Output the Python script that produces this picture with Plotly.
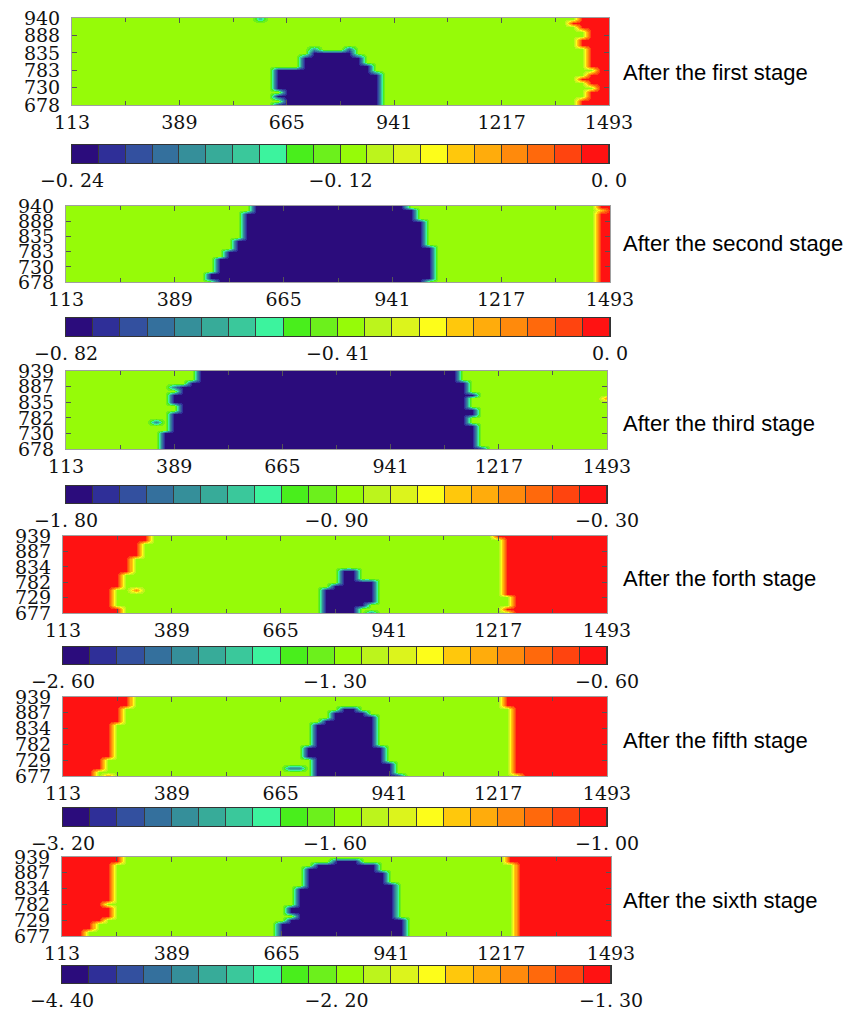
import plotly.graph_objects as go

# ---------------- grid (data coordinates of the simulation cells) ----------------
X_COLS = list(range(113, 1494, 23))
Y_ROWS = [678, 691, 704, 717, 730, 743, 756, 769, 782, 795, 808,
          821, 834, 847, 860, 873, 886, 899, 912, 925, 938]

X_TICKS = [113, 389, 665, 941, 1217, 1493]
X_MINOR = [251, 527, 803, 1079, 1355]
Y_TICKS_A = [678, 730, 783, 835, 888, 940]
Y_TICKS_B = [678, 730, 782, 835, 887, 939]
Y_TICKS_C = [677, 729, 782, 834, 887, 939]

COLORS = ["#2b0c7c", "#2f2f98", "#33509f", "#34709d", "#358f9a", "#37ab99",
          "#3ac89b", "#3cf39e", "#49ee1c", "#6cf01c", "#96fb08", "#bcf41c",
          "#dcf41c", "#fdfd1a", "#ffc80c", "#ffac0c", "#ff8a0c", "#ff690c",
          "#ff440f", "#ff1212"]

# class levels (index on the 20-step colour scale)
NAVY, GREEN, RED = 0.5, 10.5, 19.5
N = None

# ---------------- stage 1 ----------------
P1_RANGE = [-0.24, 0.0]
P1_LABELS = ["\u22120. 24", "\u22120. 12", "0. 0"]
P1_RED_LEFT = [N] * 21
P1_BLUE_LEFT = [642, 650, 642, 650, 642, 642, 642, 642, 642, 708, 708,
                708, 715, N, N, N, N, N, N, N, N]
P1_BLUE_RIGHT = [900, 905, 907, 907, 907, 905, 900, 895, 885, 875, 865,
                 850, 830, N, N, N, N, N, N, N, N]
P1_RED_RIGHT = [1420, 1415, 1425, 1440, 1450, 1435, 1423, 1440, 1450, 1440, 1436,
                1445, 1445, 1425, 1410, 1420, 1433, 1435, 1420, 1400, 1405]
P1_SPOTS = [(596, 938, 6.0), (826, 847, 3.0), (734, 847, 5.0)]

# ---------------- stage 2 ----------------
P2_RANGE = [-0.82, 0.0]
P2_LABELS = ["\u22120. 82", "\u22120. 41", "0. 0"]
P2_RED_LEFT = [N] * 21
P2_BLUE_LEFT = [486, 475, 470, 491, 491, 496, 500, 510, 521, 540, 546,
                550, 556, 556, 556, 562, 566, 571, 568, 580, 590]
P2_BLUE_RIGHT = [1024, 1040, 1040, 1054, 1054, 1050, 1049, 1045, 1040, 1034, 1032,
                 1030, 1029, 1027, 1024, 1020, 1014, 1005, 994, 990, 984]
P2_RED_RIGHT = [1460, 1448, 1460, 1462, 1462, 1462, 1462, 1462, 1462, 1462, 1462,
                1462, 1462, 1462, 1462, 1462, 1462, 1460, 1455, 1460, 1455]
P2_SPOTS = [(1470, 925, 14.5)]

# ---------------- stage 3 ----------------
P3_RANGE = [-1.80, -0.30]
P3_LABELS = ["\u22121. 80", "\u22120. 90", "\u22120. 30"]
P3_RED_LEFT = [N] * 21
P3_BLUE_LEFT = [362, 362, 362, 362, 365, 387, 385, 377, 370, 367, 367,
                367, 367, 367, 385, 400, 412, 430, 443, 455, 458]
P3_BLUE_RIGHT = [1179, 1170, 1160, 1155, 1153, 1150, 1150, 1143, 1143, 1153, 1150,
                 1143, 1143, 1145, 1148, 1140, 1133, 1128, 1123, 1115, 1108]
P3_RED_RIGHT = [N] * 21
P3_SPOTS = [(389, 808, GREEN), (389, 821, GREEN), (389, 886, 4.0),
            (343, 769, 4.0), (1493, 847, 16.5)]

# ---------------- stage 4 ----------------
P4_RANGE = [-2.60, -0.60]
P4_LABELS = ["\u22122. 60", "\u22121. 30", "\u22120. 60"]
P4_RED_LEFT = [264, 254, 240, 229, 234, 245, 249, 255, 259, 265, 272,
               276, 284, 289, 295, 299, 305, 309, 318, 330, 335]
P4_BLUE_LEFT = [778, 778, 778, 778, 778, 778, 778, 800, 818, 818, 818,
                822, N, N, N, N, N, N, N, N, N]
P4_BLUE_RIGHT = [868, 868, 880, 913, 913, 913, 913, 910, 900, 868, 868,
                 862, N, N, N, N, N, N, N, N, N]
P4_RED_RIGHT = [1241, 1236, 1245, 1251, 1246, 1240, 1235, 1231, 1234, 1236, 1236,
                1232, 1228, 1230, 1228, 1226, 1226, 1226, 1224, 1220, 1216]
P4_SPOTS = [(297, 756, 16.5), (895, 678, 4.0)]

# ---------------- stage 5 ----------------
P5_RANGE = [-3.20, -1.00]
P5_LABELS = ["\u22123. 20", "\u22121. 60", "\u22121. 00"]
P5_RED_LEFT = [204, 204, 212, 219, 226, 234, 237, 239, 242, 244, 240,
               244, 244, 249, 254, 260, 268, 272, 276, 280, 284]
P5_BLUE_LEFT = [737, 737, 737, 737, 737, 727, 717, 727, 737, 757, 757,
                747, 737, 757, 768, 788, 798, 818, N, N, N]
P5_BLUE_RIGHT = [969, 959, 949, 945, 939, 939, 924, 924, 915, 910, 908,
                 908, 908, 900, 898, 898, 880, 858, N, N, N]
P5_RED_RIGHT = [1271, 1263, 1258, 1253, 1251, 1249, 1246, 1244, 1243, 1241, 1244,
                1246, 1246, 1250, 1251, 1250, 1245, 1241, 1238, 1234, 1231]
P5_SPOTS = [(228, 678, 16.5), (688, 704, 4.0), (711, 704, 4.0)]

# ---------------- stage 6 ----------------
P6_RANGE = [-4.40, -1.30]
P6_LABELS = ["\u22124. 40", "\u22122. 20", "\u22121. 30"]
P6_RED_LEFT = [178, 180, 183, 195, 205, 230, 235, 238, 223, 235, 238,
               238, 238, 238, 238, 240, 243, 246, 250, 258, 273]
P6_BLUE_LEFT = [643, 643, 650, 658, 680, 698, 683, 688, 693, 696, 698,
                700, 703, 733, 720, 713, 733, 733, 740, 793, N]
P6_BLUE_RIGHT = [983, 983, 978, 973, 968, 963, 953, 958, 963, 958, 953,
                 950, 948, 943, 935, 928, 923, 915, 905, 853, N]
P6_RED_RIGHT = [1263, 1258, 1253, 1250, 1248, 1253, 1250, 1248, 1250, 1253, 1253,
                1250, 1248, 1248, 1248, 1246, 1244, 1243, 1242, 1240, 1238]
P6_SPOTS = []

STAGE_NAMES = ["After the first stage", "After the second stage", "After the third stage",
               "After the forth stage", "After the fifth stage", "After the sixth stage"]

# ---------------- layout (pixels) ----------------
W, H = 856, 1016
PANEL_LEFT = [72, 66, 66, 63, 63, 62]
PANEL_RIGHT = [609, 610, 607, 607, 607, 611]
HM_TOP = [18, 206, 371, 536, 697, 857]
HM_BOT = [105, 282, 449, 613, 776, 936]
CB_TOP = [145, 318, 486, 647, 808, 966]
CB_BOT = [163, 336, 503, 664, 826, 983]
LABEL_Y = [73, 243, 424, 578, 740, 900]

panels = [
    (P1_RANGE, P1_LABELS, P1_RED_LEFT, P1_BLUE_LEFT, P1_BLUE_RIGHT, P1_RED_RIGHT, P1_SPOTS, Y_TICKS_A),
    (P2_RANGE, P2_LABELS, P2_RED_LEFT, P2_BLUE_LEFT, P2_BLUE_RIGHT, P2_RED_RIGHT, P2_SPOTS, Y_TICKS_A),
    (P3_RANGE, P3_LABELS, P3_RED_LEFT, P3_BLUE_LEFT, P3_BLUE_RIGHT, P3_RED_RIGHT, P3_SPOTS, Y_TICKS_B),
    (P4_RANGE, P4_LABELS, P4_RED_LEFT, P4_BLUE_LEFT, P4_BLUE_RIGHT, P4_RED_RIGHT, P4_SPOTS, Y_TICKS_C),
    (P5_RANGE, P5_LABELS, P5_RED_LEFT, P5_BLUE_LEFT, P5_BLUE_RIGHT, P5_RED_RIGHT, P5_SPOTS, Y_TICKS_C),
    (P6_RANGE, P6_LABELS, P6_RED_LEFT, P6_BLUE_LEFT, P6_BLUE_RIGHT, P6_RED_RIGHT, P6_SPOTS, Y_TICKS_C),
]

colorscale = []
for i, c in enumerate(COLORS):
    colorscale.append([i / len(COLORS), c])
    colorscale.append([(i + 1) / len(COLORS), c])


def level_grid(red_left, blue_left, blue_right, red_right, spots):
    grid = []
    for i, _ in enumerate(Y_ROWS):
        row = []
        for x in X_COLS:
            lvl = GREEN
            if red_left[i] is not None and x <= red_left[i]:
                lvl = RED
            elif red_right[i] is not None and x >= red_right[i]:
                lvl = RED
            elif blue_left[i] is not None and blue_left[i] <= x <= blue_right[i]:
                lvl = NAVY
            row.append(lvl)
        grid.append(row)
    for sx, sy, lvl in spots:
        grid[Y_ROWS.index(sy)][X_COLS.index(sx)] = lvl
    return grid


SERIF = "DejaVu Serif"
fig = go.Figure()
layout = dict(template="none", width=W, height=H, autosize=False,
              margin=dict(l=0, r=0, t=0, b=0, pad=0),
              paper_bgcolor="white", plot_bgcolor="#3a3a3a", showlegend=False)
annotations = []

for p, (vr, labels, rl, bl, br, rr, spots, yticks) in enumerate(panels):
    vmin, vmax = vr
    levels = level_grid(rl, bl, br, rr, spots)
    z = [[vmin + lv / 20 * (vmax - vmin) for lv in row] for row in levels]
    ha = 2 * p + 1
    ca = 2 * p + 2
    sfx_h = "" if ha == 1 else str(ha)
    sfx_c = str(ca)
    xd = [PANEL_LEFT[p] / W, PANEL_RIGHT[p] / W]

    fig.add_trace(go.Heatmap(
        x=X_COLS, y=Y_ROWS, z=z, zmin=vmin, zmax=vmax, colorscale=colorscale,
        zsmooth="best", showscale=False, hoverinfo="skip",
        xaxis="x" + sfx_h, yaxis="y" + sfx_h))

    # colour bar drawn as a 20-cell strip
    step_vals = [vmin + (k + 0.5) / 20 * (vmax - vmin) for k in range(20)]
    fig.add_trace(go.Heatmap(
        x=[k + 0.5 for k in range(20)], y=[0], z=[step_vals], zmin=vmin, zmax=vmax,
        colorscale=colorscale, showscale=False, xgap=1, hoverinfo="skip",
        xaxis="x" + sfx_c, yaxis="y" + sfx_c))

    layout["xaxis" + sfx_h] = dict(
        domain=xd, anchor="y" + sfx_h, range=[113, 1493], automargin=False,
        tickmode="array", tickvals=X_TICKS, ticktext=[str(v) for v in X_TICKS],
        ticks="inside", ticklen=5, tickcolor="#555", tickwidth=1,
        minor=dict(tickvals=X_MINOR, ticks="inside", ticklen=4, tickcolor="#555"),
        showline=True, linecolor="#a0a0a0", linewidth=1, mirror="allticks",
        showgrid=False, zeroline=False,
        tickfont=dict(family=SERIF, size=19, color="#111"))
    layout["yaxis" + sfx_h] = dict(
        domain=[1 - HM_BOT[p] / H, 1 - HM_TOP[p] / H], anchor="x" + sfx_h,
        range=[yticks[0], yticks[-1]], automargin=False,
        tickmode="array", tickvals=yticks, ticktext=[str(v) for v in yticks],
        ticks="inside", ticklen=5, tickcolor="#555", tickwidth=1,
        ticklabelstandoff=7,
        showline=True, linecolor="#a0a0a0", linewidth=1, mirror="allticks",
        showgrid=False, zeroline=False,
        tickfont=dict(family=SERIF, size=19, color="#111"))
    layout["xaxis" + sfx_c] = dict(
        domain=xd, anchor="y" + sfx_c, range=[0, 20], automargin=False,
        tickmode="array", tickvals=[0, 10, 20], ticktext=labels, ticks="",
        showline=True, linecolor="#333", linewidth=1, mirror=True,
        showgrid=False, zeroline=False,
        tickfont=dict(family=SERIF, size=19, color="#111"))
    layout["yaxis" + sfx_c] = dict(
        domain=[1 - CB_BOT[p] / H, 1 - CB_TOP[p] / H], anchor="x" + sfx_c,
        range=[-0.5, 0.5], showticklabels=False, ticks="", automargin=False,
        showline=True, linecolor="#333", linewidth=1, mirror=True,
        showgrid=False, zeroline=False)

    annotations.append(dict(
        text=STAGE_NAMES[p], xref="paper", yref="paper",
        x=621 / W, y=1 - LABEL_Y[p] / H, xanchor="left", yanchor="middle",
        showarrow=False, font=dict(family="Liberation Sans", size=22, color="#000")))

layout["annotations"] = annotations
fig.update_layout(**layout)
fig.write_html("out.html")
